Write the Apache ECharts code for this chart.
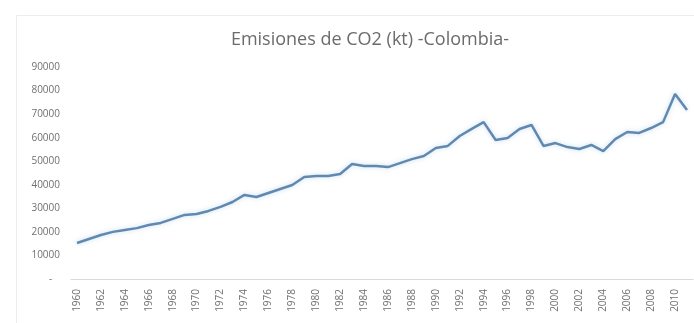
<!DOCTYPE html>
<html>
<head>
<meta charset="utf-8">
<script src="https://cdn.jsdelivr.net/npm/echarts@6/dist/echarts.min.js"></script>
<style>
html,body{margin:0;padding:0;background:#fff;}
#chart{width:694px;height:323px;}
</style>
</head>
<body>
<div id="chart"></div>
<script>
var years = ['1960','1961','1962','1963','1964','1965','1966','1967','1968','1969',
  '1970','1971','1972','1973','1974','1975','1976','1977','1978','1979',
  '1980','1981','1982','1983','1984','1985','1986','1987','1988','1989',
  '1990','1991','1992','1993','1994','1995','1996','1997','1998','1999',
  '2000','2001','2002','2003','2004','2005','2006','2007','2008','2009',
  '2010','2011'];
var emissions = [15300,17000,18700,20000,20800,21600,22900,23800,25500,27200,
  27600,28900,30600,32700,35700,34800,36500,38200,39900,43300,
  43700,43700,44600,48800,48000,48000,47500,49200,50900,52200,
  55600,56500,60700,63700,66600,59000,59900,63700,65400,56500,
  57700,56000,55200,56900,54300,59400,62400,62000,64100,66600,
  78500,71700];
var titleText = 'Emisiones de CO2 (kt) -Colombia-';

var chart = echarts.init(document.getElementById('chart'));
chart.setOption({
  backgroundColor: '#fff',
  animation: false,
  graphic: [{
    type: 'rect', silent: true, z: -10,
    shape: {x: 16.5, y: 15.5, width: 700, height: 320},
    style: {fill: 'none', stroke: '#ececec', lineWidth: 1}
  }],
  title: {
    text: titleText,
    left: 365, top: 26, textAlign: 'center',
    textStyle: {fontFamily: 'Open Sans', fontSize: 18, fontWeight: 'normal', color: '#6b6b6b'}
  },
  grid: {left: 71, right: 1, top: 67, bottom: 44, containLabel: false},
  xAxis: {
    type: 'category',
    data: years,
    boundaryGap: true,
    axisLine: {show: true, lineStyle: {color: '#d9d9d9', width: 1}},
    axisTick: {show: false},
    axisLabel: {interval: 1, rotate: 90, fontFamily: 'Open Sans', fontSize: 10, color: '#707070', margin: 10}
  },
  yAxis: {
    type: 'value',
    min: 0, max: 90000, interval: 10000,
    axisLine: {show: false},
    axisTick: {show: false},
    splitLine: {show: false},
    axisLabel: {
      fontFamily: 'Open Sans', fontSize: 10, color: '#707070', margin: 11,
      formatter: function (v) { return v === 0 ? '-   ' : String(v); }
    }
  },
  series: [{
    type: 'line',
    data: emissions,
    symbol: 'none',
    lineStyle: {color: '#6189b0', width: 2.5, shadowColor: 'rgba(91,155,213,0.35)', shadowBlur: 5},
    itemStyle: {color: '#6189b0'}
  }]
});
</script>
</body>
</html>
